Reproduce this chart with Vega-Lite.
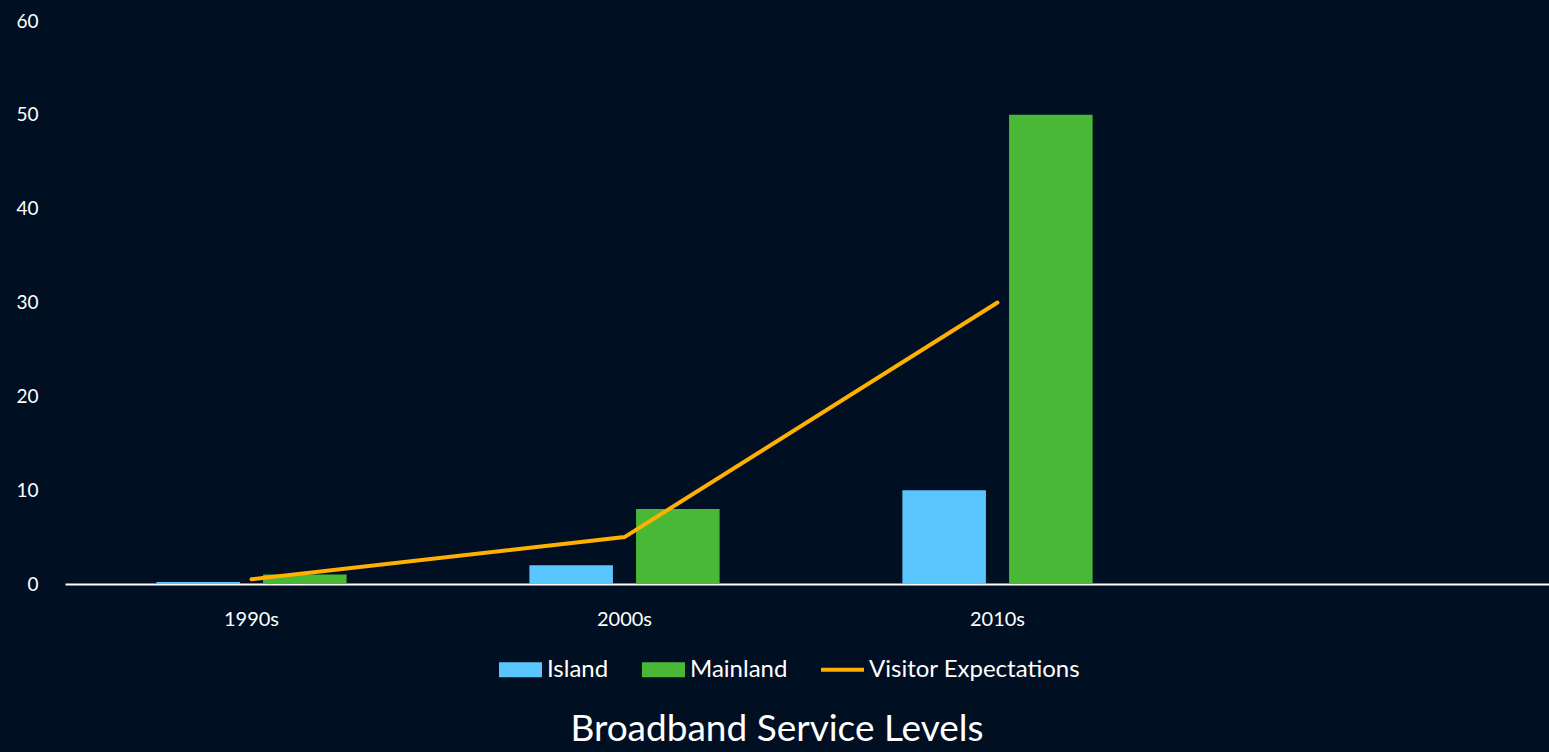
{
  "$schema": "https://vega.github.io/schema/vega-lite/v6.json",
  "width": 1484,
  "height": 563,
  "autosize": {"type": "none"},
  "padding": {"left": 65, "top": 21, "right": 0, "bottom": 168},
  "background": "#010f22",
  "config": {"view": {"stroke": null}},
  "title": {
    "text": "Broadband Service Levels",
    "orient": "bottom",
    "anchor": "middle",
    "frame": "group",
    "offset": 30,
    "dx": -30,
    "font": "Lato",
    "fontSize": 37,
    "fontWeight": "normal",
    "color": "#ffffff"
  },
  "data": {
    "values": [
      {"decade": "1990s", "series": "Island", "value": 0.2},
      {"decade": "1990s", "series": "Mainland", "value": 1},
      {"decade": "2000s", "series": "Island", "value": 2},
      {"decade": "2000s", "series": "Mainland", "value": 8},
      {"decade": "2010s", "series": "Island", "value": 10},
      {"decade": "2010s", "series": "Mainland", "value": 50},
      {"decade": "1990s", "series": "Visitor Expectations", "value": 0.5},
      {"decade": "2000s", "series": "Visitor Expectations", "value": 5},
      {"decade": "2010s", "series": "Visitor Expectations", "value": 30}
    ]
  },
  "encoding": {
    "x": {
      "field": "decade",
      "type": "nominal",
      "sort": null,
      "scale": {"domain": ["1990s", "2000s", "2010s", " "], "range": [0, 1492], "paddingInner": 0.49, "paddingOuter": 0.245},
      "axis": {
        "title": null,
        "labelAngle": 0,
        "labelFont": "Lato",
        "labelFontSize": 20,
        "labelColor": "#ffffff",
        "labelPadding": 25,
        "ticks": false,
        "domainColor": "#ffffff",
        "domainWidth": 2,
        "grid": false
      }
    },
    "y": {
      "field": "value",
      "type": "quantitative",
      "scale": {"domain": [0, 60], "nice": false},
      "axis": {
        "title": null,
        "values": [0, 10, 20, 30, 40, 50, 60],
        "labelFont": "Lato",
        "labelFontSize": 19,
        "labelColor": "#ffffff",
        "labelPadding": 27,
        "ticks": false,
        "domain": false,
        "grid": false
      }
    },
    "color": {
      "field": "series",
      "type": "nominal",
      "scale": {
        "domain": ["Island", "Mainland", "Visitor Expectations"],
        "range": ["#5bc5fe", "#4ab837", "#ffb000"]
      },
      "legend": {
        "title": null,
        "orient": "none",
        "legendX": 434,
        "legendY": 627,
        "direction": "horizontal",
        "symbolSize": 1849,
        "labelFont": "Lato",
        "labelFontSize": 24,
        "labelColor": "#ffffff",
        "labelLimit": 0,
        "labelOffset": 5,
        "columnPadding": 33,
        "symbolStrokeWidth": 0,
        "symbolOpacity": 1,
        "encode": {
          "symbols": {
            "update": {
              "shape": {"signal": "datum.value === 'Visitor Expectations' ? 'M-1,-0.09H1V0.09H-1Z' : 'M-1,-0.35H1V0.35H-1Z'"},
              "fill": {"signal": "datum.value === 'Island' ? '#5bc5fe' : datum.value === 'Mainland' ? '#4ab837' : '#ffb000'"},
              "strokeWidth": {"value": 0},
              "opacity": {"value": 1}
            }
          }
        }
      }
    }
  },
  "layer": [
    {
      "transform": [{"filter": "datum.series !== 'Visitor Expectations'"}],
      "mark": {"type": "bar"},
      "encoding": {
        "xOffset": {
          "field": "series",
          "type": "nominal",
          "scale": {"domain": ["Island", "Mainland"], "paddingInner": 0.217, "paddingOuter": 0}
        }
      }
    },
    {
      "transform": [{"filter": "datum.series === 'Visitor Expectations'"}],
      "mark": {"type": "line", "strokeWidth": 4, "strokeCap": "round"},
      "encoding": {}
    }
  ]
}
